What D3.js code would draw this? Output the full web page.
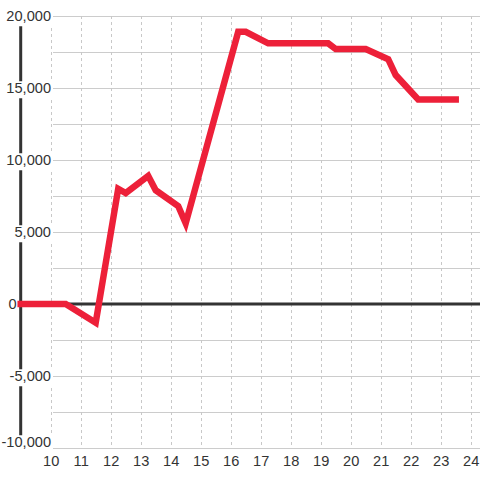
<!DOCTYPE html>
<html>
<head>
<meta charset="utf-8">
<script src="https://cdn.jsdelivr.net/npm/d3@7"></script>
<style>
  html, body { margin: 0; padding: 0; background: #fff; }
  svg { display: block; font-family: "Liberation Sans", Arial, sans-serif; }
</style>
</head>
<body>
<svg id="chart" width="480" height="480"></svg>
<script>
// data
const hours = [9, 10.5, 11.5, 12.25, 12.5, 13.25, 13.5, 14.25, 14.5, 16.25, 16.5, 17.25, 19.25, 19.5, 20.5, 21.25, 21.5, 22.25, 23.5];
const values = [0, 0, -1300, 8000, 7700, 8900, 7900, 6800, 5600, 18900, 18900, 18100, 18100, 17700, 17700, 17000, 15900, 14200, 14200];
const xTicks = [10, 11, 12, 13, 14, 15, 16, 17, 18, 19, 20, 21, 22, 23, 24];
const yTicks = [-10000, -5000, 0, 5000, 10000, 15000, 20000];
const yGrid = [-10000, -7500, -5000, -2500, 0, 2500, 5000, 7500, 10000, 12500, 15000, 17500, 20000];

const width = 480;
const axisX = 20.7;
const gridLeft = 53;

const svg = d3.select("#chart");

const x = d3.scaleLinear().domain([9, 24]).range([axisX, 470.7]);
const y = d3.scaleLinear().domain([-10000, 20000]).range([448, 16]);

// horizontal grid
svg.append("g")
  .selectAll("line")
  .data(yGrid)
  .join("line")
  .attr("x1", gridLeft)
  .attr("x2", width)
  .attr("y1", (d) => Math.round(y(d)) + 0.5)
  .attr("y2", (d) => Math.round(y(d)) + 0.5)
  .attr("stroke", "#cccccc")
  .attr("stroke-width", 1);

// vertical dashed grid
svg.append("g")
  .selectAll("line")
  .data(xTicks)
  .join("line")
  .attr("x1", (d) => Math.round(x(d)) + 0.5)
  .attr("x2", (d) => Math.round(x(d)) + 0.5)
  .attr("y1", y(20000))
  .attr("y2", y(-10000))
  .attr("stroke", "#c8c8c8")
  .attr("stroke-width", 1)
  .attr("stroke-dasharray", "3,3");

// zero line
svg.append("line")
  .attr("x1", axisX)
  .attr("x2", width)
  .attr("y1", y(0))
  .attr("y2", y(0))
  .attr("stroke", "#333")
  .attr("stroke-width", 3);

// y axis line
svg.append("line")
  .attr("x1", axisX)
  .attr("x2", axisX)
  .attr("y1", y(20000))
  .attr("y2", y(-10000))
  .attr("stroke", "#333")
  .attr("stroke-width", 3);

// y labels with white backing (zero label sits left of the axis)
const fmt = (d) => d3.format(",")(d).replace("\u2212", "-");
const yLabels = svg.append("g")
  .selectAll("g")
  .data(yTicks)
  .join("g")
  .attr("transform", (d) => {
    const lx = d === 0 ? 16.5 : 51;
    const ly = y(d) + (d === -10000 ? -6 : 0);
    return `translate(${lx},${ly})`;
  });

yLabels.append("text")
  .attr("text-anchor", "end")
  .attr("dy", "0.36em")
  .style("font-size", "14.6px")
  .attr("fill", "#333")
  .text((d) => fmt(d));

yLabels.filter((d) => d !== 0).each(function () {
  const g = d3.select(this);
  const b = g.select("text").node().getBBox();
  g.insert("rect", "text")
    .attr("x", b.x - 1)
    .attr("y", b.y + 1)
    .attr("width", b.width + 2)
    .attr("height", b.height + 1)
    .attr("fill", "#fff");
});

// data line
const line = d3.line()
  .x((d, i) => x(hours[i]))
  .y((d) => y(d));

svg.append("path")
  .datum(values)
  .attr("d", line)
  .attr("fill", "none")
  .attr("stroke", "#ed2039")
  .attr("stroke-width", 6.5)
  .attr("stroke-linejoin", "miter")
  .attr("stroke-linecap", "square");

// x labels
svg.append("g")
  .selectAll("text")
  .data(xTicks)
  .join("text")
  .attr("x", (d) => x(d) + 0.5)
  .attr("y", 461)
  .attr("dy", "0.36em")
  .attr("text-anchor", "middle")
  .style("font-size", "14.6px")
  .attr("fill", "#333")
  .text((d) => d);
</script>
</body>
</html>
